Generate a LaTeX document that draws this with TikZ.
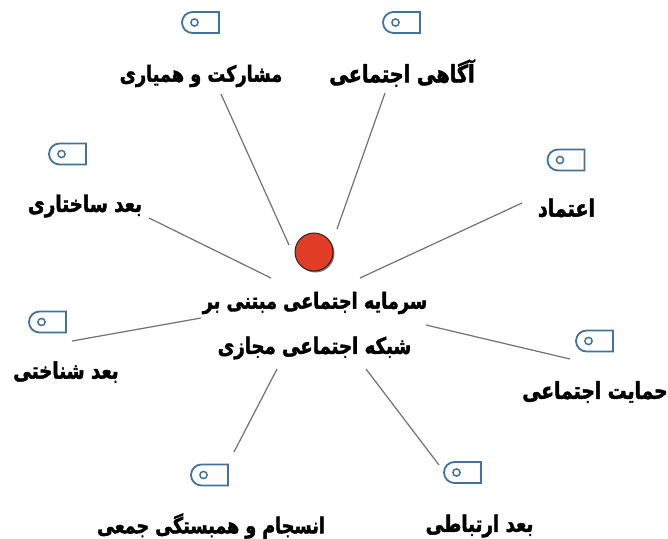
\documentclass[tikz,border=0pt]{standalone}
\usepackage{fontspec}
\TeXXeTstate=1
\newfontfamily\arabicfont[Script=Arabic,FakeBold=2,FakeStretch=0.8]{DejaVu Sans Bold}
\usetikzlibrary{shadows}
\definecolor{tagblue}{HTML}{41719C}
\definecolor{ballred}{HTML}{E23D26}
\definecolor{linegray}{HTML}{707070}
\tikzset{
  lbl/.style={inner sep=0pt,font=\arabicfont\fontsize{#1}{24}\selectfont,text=black},
  lbl/.default=22.2,
  conn/.style={draw=linegray,line width=1.2pt},
  pics/tagicon/.style={code={
    \draw[tagblue,line width=1.8pt,line join=miter]
      (18.5,-10.5) -- (-8,-10.5) arc[start angle=270,end angle=90,radius=10.5] -- (18.5,10.5) -- cycle;
    \draw[tagblue,line width=1.5pt] (-6,0) circle[radius=3.6];
  }}
}
\newcommand{\fa}[1]{\beginR #1\endR}
\begin{document}
\begin{tikzpicture}[x=1bp,y=-1bp]
\useasboundingbox (0,0) rectangle (668,539);
% icons
\pic at (200.5,22.5) {tagicon};
\pic at (401.5,22.5) {tagicon};
\pic at (566,160) {tagicon};
\pic at (67.5,154) {tagicon};
\pic at (47.5,322) {tagicon};
\pic at (594.5,341) {tagicon};
\pic at (462.5,472.5) {tagicon};
\pic at (209.5,475) {tagicon};
% labels
\node[lbl] (mosharekat) at (201,76) {\fa{مشارکت و همیاری}};
\node[lbl=24.1] (agahi) at (402,73) {\fa{آگاهی اجتماعی}};
\node[lbl=23.9] (etemad) at (566.5,208) {\fa{اعتماد}};
\node[lbl=23] (sakhtari) at (85,206) {\fa{بعد ساختاری}};
\node[lbl=22.9] (shenakhti) at (66,372) {\fa{بعد شناختی}};
\node[lbl=23.5] (hemayat) at (595,392) {\fa{حمایت اجتماعی}};
\node[lbl=22.9] (ertebati) at (479.5,526) {\fa{بعد ارتباطی}};
\node[lbl=22] (ensejam) at (211,526) {\fa{انسجام و همبستگی جمعی}};
\node[lbl] (center1) at (315,303) {\fa{سرمایه اجتماعی مبتنی بر}};
\node[lbl=22.7] (center2) at (314.5,348) {\fa{شبکه اجتماعی مجازی}};
% red ball
\node[circle,minimum size=38bp,inner sep=0pt,fill=ballred,draw=black!85,line width=1pt,
  drop shadow={shadow xshift=1.5pt,shadow yshift=-1.5pt,fill=black!60,opacity=.9}] (ball) at (314,252) {};
% connector ends
\coordinate (a1) at (221,94);  \coordinate (b1) at (289,245);
\coordinate (a2) at (385,93);  \coordinate (b2) at (337,229);
\coordinate (a3) at (522,203); \coordinate (b3) at (360,278);
\coordinate (a4) at (149,218); \coordinate (b4) at (271,278);
\coordinate (a5) at (72,341);  \coordinate (b5) at (201,318);
\coordinate (a6) at (570,359); \coordinate (b6) at (426,325);
\coordinate (a7) at (439,465); \coordinate (b7) at (366,369);
\coordinate (a8) at (234,452); \coordinate (b8) at (277,369);
\foreach \i in {1,...,8}{\draw[conn] (a\i) -- (b\i);}
\end{tikzpicture}
\end{document}
